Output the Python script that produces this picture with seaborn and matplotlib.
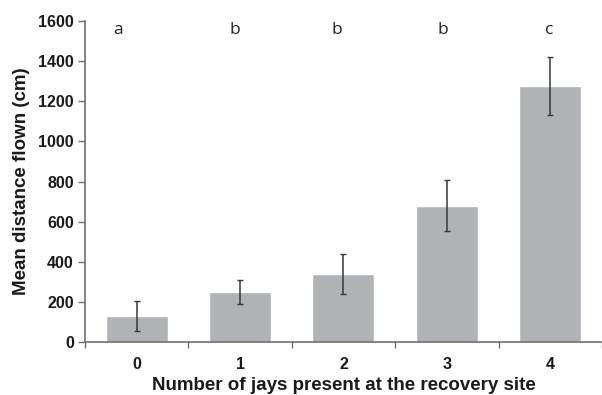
import pandas as pd
import matplotlib
matplotlib.use('Agg')
import matplotlib.pyplot as plt
import seaborn as sns

JAYS = ['0', '1', '2', '3', '4']
MEAN_DIST = [130, 250, 340, 680, 1275]
SEM = [75, 60, 100, 125, 143]
LETTERS = ['a', 'b', 'b', 'b', 'c']

# where the significance letters sit (data coords)
LETTER_X = [-0.18, 0.95, 1.94, 2.96, 3.99]
LETTER_Y = 1555

BAR_COLOR = '#b1b2b6'
AXIS_COLOR = '#6e6e6e'
TEXT_COLOR = '#1a1a1a'


def main():
    sns.set_theme(style='white')
    plt.rcParams['font.family'] = ['Liberation Sans', 'DejaVu Sans']

    df = pd.DataFrame({'jays': JAYS, 'dist': MEAN_DIST, 'sem': SEM})

    fig = plt.figure(figsize=(6.02, 3.95), dpi=100)
    ax = fig.add_axes([0.141, 0.134, 0.859, 0.813])

    sns.barplot(data=df, x='jays', y='dist', color=BAR_COLOR,
                width=0.6, saturation=1, errorbar=None, ax=ax)
    ax.errorbar(range(len(JAYS)), df['dist'], yerr=df['sem'], fmt='none',
                ecolor='#383838', elinewidth=1.1, capsize=2.5, capthick=1)

    for x, letter in zip(LETTER_X, LETTERS):
        ax.text(x, LETTER_Y, letter, ha='center', va='center',
                fontsize=12.5, color='#222222',
                family=['Open Sans', 'DejaVu Sans'])

    ax.set_xlim(-0.5, 4.5)
    ax.set_ylim(0, 1600)
    ax.set_yticks(range(0, 1601, 200))

    ax.set_xticks([x - 0.5 for x in range(6)], minor=True)
    ax.tick_params(axis='x', which='major', length=0, pad=11)
    ax.tick_params(axis='x', which='minor', length=4, width=1,
                   color=AXIS_COLOR, direction='out', bottom=True)
    ax.tick_params(axis='y', length=5, width=1, color=AXIS_COLOR,
                   direction='out', left=True, pad=3)

    for lab in ax.get_xticklabels() + ax.get_yticklabels():
        lab.set_fontweight('bold')
        lab.set_fontsize(11.5)
        lab.set_color(TEXT_COLOR)

    ax.set_xlabel('Number of jays present at the recovery site',
                  fontsize=13.5, fontweight='bold', color=TEXT_COLOR,
                  labelpad=3)
    ax.set_ylabel('Mean distance flown (cm)',
                  fontsize=13.5, fontweight='bold', color=TEXT_COLOR,
                  labelpad=6)

    sns.despine(ax=ax)
    for side in ['left', 'bottom']:
        ax.spines[side].set_color(AXIS_COLOR)
        ax.spines[side].set_linewidth(1.2)

    fig.savefig('out.png', dpi=100)


if __name__ == '__main__':
    main()
